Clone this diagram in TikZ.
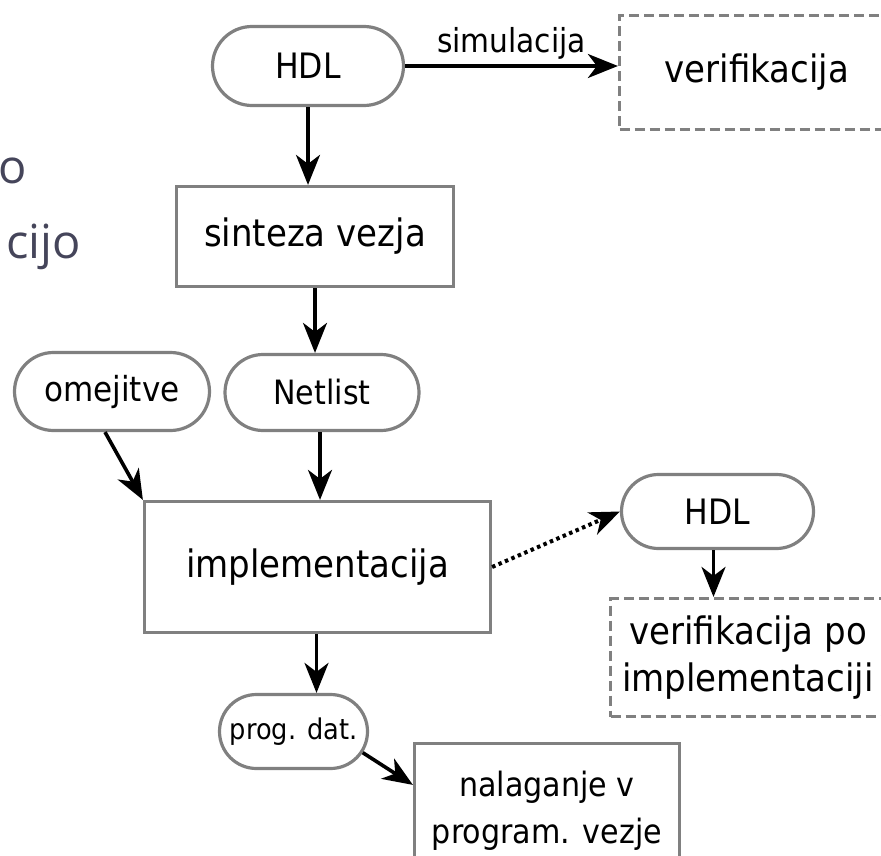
\documentclass[tikz,border=0pt]{standalone}
\usepackage{fontspec}
\setmainfont{DejaVu Sans}[FakeStretch=0.9]
\newfontfamily\slidefont{Open Sans}
\usetikzlibrary{arrows.meta,shapes.misc,calc}
\definecolor{boxgray}{HTML}{808080}
\definecolor{slidetext}{HTML}{45455A}
\newcommand{\fsz}[1]{\fontsize{#1pt}{47pt}\selectfont}
\tikzset{
  stadium/.style={rounded rectangle, draw=boxgray, line width=3.2pt, fill=white,
    inner sep=0pt, align=center},
  procbox/.style={rectangle, draw=boxgray, line width=3.2pt, fill=white,
    inner sep=0pt, align=center},
  checkbox/.style={rectangle, draw=boxgray, line width=3.2pt,
    dash pattern=on 10pt off 5pt, inner sep=0pt, align=center},
  flow/.style={line width=3.6pt, -{Stealth[length=30pt,width=24pt,inset=9pt]}},
  hint/.style={line width=4pt, dash pattern=on 3.5pt off 3.5pt,
    -{Stealth[length=30pt,width=24pt,inset=9pt]}},
  slide/.style={font=\slidefont\fontsize{47pt}{57pt}\selectfont, text=slidetext,
    inner sep=0pt}
}
\begin{document}
\begin{tikzpicture}[x=1pt,y=-1pt]
\useasboundingbox (0,0) rectangle (881,856);

% fragments of the slide text behind the chart
\node[slide, anchor=base west] (fragA) at (-1.5,183) {o};
\node[slide, anchor=base east] (fragB) at (81,258) {cijo};

% main flow
\node[stadium, minimum width=191pt, minimum height=79pt, font=\fsz{35}]
  (hdl) at (308,66) {HDL};
\node[checkbox, minimum width=275pt, minimum height=114pt, font=\fsz{37.8}]
  (verif) at (757,72.5) {verifikacija};
\node[procbox, minimum width=277pt, minimum height=100pt, font=\fsz{37.8}]
  (synth) at (315,236.5) {sinteza vezja};
\node[stadium, minimum width=195pt, minimum height=78pt, font=\fsz{34.5}]
  (constr) at (112,391.5) {omejitve};
\node[stadium, minimum width=194pt, minimum height=76pt, font=\fsz{33.5}]
  (netlist) at (322,392.5) {Netlist};
\node[procbox, minimum width=346pt, minimum height=131pt, font=\fsz{37.8}]
  (impl) at (317.5,567) {implementacija};
\node[stadium, minimum width=192pt, minimum height=74pt, font=\fsz{35}]
  (hdlb) at (717.5,511.5) {HDL};
\node[checkbox, minimum width=275pt, minimum height=118pt, font=\fsz{37.8}]
  (verifb) at (748,657.5) {verifikacija po\\implementaciji};
\node[stadium, minimum width=148pt, minimum height=74pt, font=\fsz{28.5}]
  (bits) at (293.5,731.5) {prog. dat.};
\node[procbox, minimum width=265pt, minimum height=135pt, font=\fsz{33.5}]
  (load) at (547,811) {nalaganje v\\program. vezje};

% connectors
\draw[flow] (hdl.east) -- (hdl.east -| verif.west)
  node[midway, above=2pt, font=\fsz{33}] (simlabel) {simulacija};
\draw[flow] (hdl.south) -- (hdl.south |- synth.north);
\draw[flow] (synth.south) -- (synth.south |- netlist.north);
\draw[flow] ([xshift=-2pt]netlist.south) -- ([xshift=-2pt]netlist.south |- impl.north);
\draw[flow] ([xshift=-7pt]constr.south) -- (impl.north west);
\draw[flow] ([xshift=-1pt]impl.south) -- ([xshift=-1pt]impl.south |- bits.north);
\draw[flow] (bits.-17) -- ([yshift=-43pt]load.north west);
\draw[hint] (impl.east) -- (hdlb.west);
\draw[flow] ([xshift=-4pt]hdlb.south) -- ([xshift=-4pt]hdlb.south |- verifb.north);
\end{tikzpicture}
\end{document}
